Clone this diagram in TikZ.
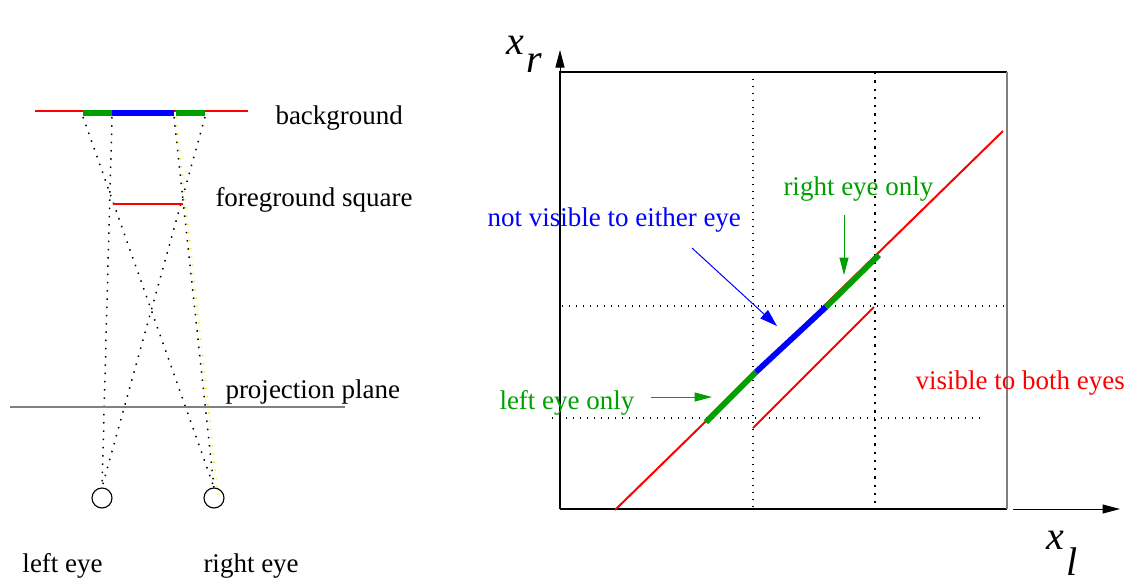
\documentclass[tikz,border=0pt]{standalone}
\usepackage{fontspec}
\setmainfont{Liberation Serif}
\usetikzlibrary{arrows.meta}
\definecolor{FigRed}{HTML}{FF0000}
\definecolor{FigGreen}{HTML}{00A000}
\definecolor{FigBlue}{HTML}{0000FF}
\definecolor{FigYellow}{HTML}{FFEE00}
\definecolor{FigGray}{HTML}{808080}

\begin{document}
\begin{tikzpicture}[x=0.4pt, y=-0.4pt, every node/.style={font=\fontsize{10.8}{13}\selectfont, inner sep=0pt, anchor=west}, ray/.style={line width=0.6pt, dash pattern=on 0.6pt off 2.7pt}, griddot/.style={line width=0.45pt, dash pattern=on 0.5pt off 2.3pt}, band/.style={line width=2.3pt}, redline/.style={line width=0.8pt, color=FigRed}, pointer/.style={-{Triangle[length=7pt,width=3.6pt]}, line width=0.4pt}, axislabel/.style={font=\fontsize{16}{18}\selectfont\itshape, anchor=base west}, eye/.style={circle, draw, line width=0.45pt, minimum size=8pt, anchor=center}]
\useasboundingbox (0,0) rectangle (1127,582);
% left: the two eyes looking past the square
\node[eye] (eyeL) at (102,498) {};
\node[eye] (eyeR) at (214,498) {};
\coordinate (bgL) at (35,111); \coordinate (bgR) at (248,111);
\coordinate (bgA) at (83,113); \coordinate (bgB) at (112,113); \coordinate (bgC) at (174,113); \coordinate (bgD) at (205,113);
\coordinate (fgL) at (113,204); \coordinate (fgR) at (183,204);
\draw[ray, FigYellow] (176,117) -- (218,495);
\draw[ray] (83,117) -- (eyeR.north); \draw[ray] (205,117) -- (eyeL.north);
\draw[ray] (112,117) -- (eyeL.north); \draw[ray] (174,117) -- (eyeR.north);
\draw[redline] (bgL) -- (bgR);
\draw[band, FigGreen] (bgA) -- (bgB); \draw[band, FigBlue] (bgB) -- (bgC); \draw[band, FigGreen] (bgD) -- ++(-29,0);
\draw[redline] (fgL) -- (fgR);
\draw[line width=0.8pt, FigGray] (10,407) -- (345,407);
\node (bgtext) at (275,118) {background};
\node (fgtext) at (215,200) {foreground square};
\node (pptext) at (225,392) {projection plane};
\node (lefttext) at (22,566) {left eye};
\node (righttext) at (203,566) {right eye};
% right: x_l against x_r
\coordinate (O) at (560,509);
\draw[line width=0.5pt] (O) -- (560,72) -- (1007,72); \draw[line width=0.5pt] (O) -- (1007,509);
\draw[line width=0.7pt, FigGray] (1007,72) -- (1007,509);
\draw[pointer] (O) -- (560,50);
\draw[pointer] (1013,509) -- (1120,509);
\draw[griddot] (753,72) -- (753,509);
\draw[line width=0.9pt, dash pattern=on 0.9pt off 2.4pt] (875,72) -- (875,509);
\draw[griddot] (562,306) -- (1006,306);
\draw[griddot] (552,418) -- (985,418);
\draw[redline] (615,510) -- (1003,131);
\draw[redline] (753,428) -- (874,307);
\coordinate (p1) at (706,422); \coordinate (p2) at (756,372); \coordinate (p3) at (826,307); \coordinate (p4) at (879,255);
\draw[band, FigGreen] (p1) -- (p2); \draw[band, FigBlue] (p2) -- (p3); \draw[band, FigGreen] (p3) -- (p4);
\node[FigGreen] (righteye) at (783,189) {right eye only};
\node[FigBlue] (neither) at (487,220) {not visible to either eye};
\node[FigGreen] (lefteye) at (499,403) {left eye only};
\node[FigRed] (both) at (915,383) {visible to both eyes};
\draw[pointer, FigGreen] (844,215) -- (844,275);
\draw[pointer, FigGreen] (651,397) -- (712,397);
\draw[-{Triangle[length=7pt,width=4.5pt]}, line width=0.4pt, FigBlue] (692,248) -- (777,326);
\node[axislabel] (xr) at (506,54) {x\kern1pt\raisebox{-7.5pt}{r}};
\node[axislabel] (xl) at (1046,549) {x\kern1pt\raisebox{-10.5pt}{l}};
\end{tikzpicture}
\end{document}
